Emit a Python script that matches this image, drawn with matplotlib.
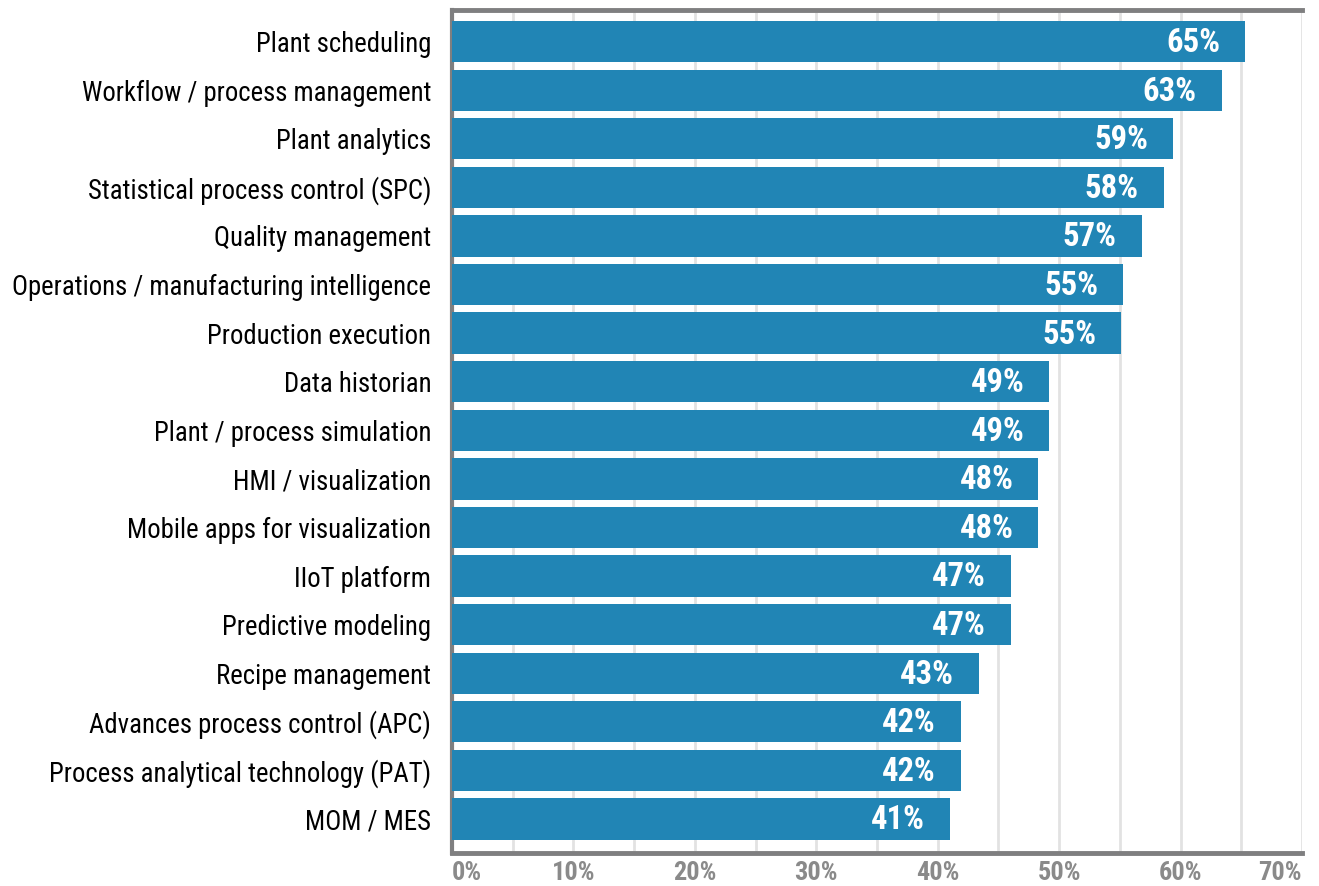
import matplotlib.pyplot as plt
from matplotlib.ticker import MultipleLocator

categories = ["Plant scheduling", "Workflow / process management", "Plant analytics",
              "Statistical process control (SPC)", "Quality management",
              "Operations / manufacturing intelligence", "Production execution",
              "Data historian", "Plant / process simulation", "HMI / visualization",
              "Mobile apps for visualization", "IIoT platform", "Predictive modeling",
              "Recipe management", "Advances process control (APC)",
              "Process analytical technology (PAT)", "MOM / MES"]
values = [65.3, 63.4, 59.4, 58.6, 56.8, 55.3, 55.1, 49.2, 49.2, 48.3, 48.3,
          46.0, 46.0, 43.4, 41.9, 41.9, 41.0]
labels = ["65%", "63%", "59%", "58%", "57%", "55%", "55%", "49%", "49%", "48%",
          "48%", "47%", "47%", "43%", "42%", "42%", "41%"]
xticks = [0, 10, 20, 30, 40, 50, 60, 70]

plt.rcParams['font.family'] = ['Roboto Condensed', 'Archivo Narrow', 'PT Sans Narrow',
                               'Liberation Sans Narrow', 'DejaVu Sans']

fig = plt.figure(figsize=(13.19, 8.86), dpi=100)
ax = fig.add_axes([0.3427, 0.0372, 0.9871 - 0.3427, 0.9887 - 0.0372])

ypos = list(range(len(categories)))
ax.barh(ypos, values, height=0.85, color='#2185b5', zorder=3)
for y, v, lab in zip(ypos, values, labels):
    ax.annotate(lab, (v, y), xytext=(-18, -1), textcoords='offset points',
                ha='right', va='center', color='white', fontsize=23.5,
                fontweight='bold', zorder=4)

ax.set_xlim(0, 70)
ax.set_ylim(16.7, -0.65)
ax.set_yticks(ypos)
ax.set_yticklabels(categories, fontsize=19.3)
ax.set_xticks(xticks)
ax.set_xticklabels([f"{t}%" for t in xticks], fontsize=19, color='#8a8a8a',
                   fontweight='bold')
xl = ax.get_xticklabels()
xl[0].set_horizontalalignment('left')
xl[-1].set_horizontalalignment('right')  # keep it inside the figure
ax.xaxis.set_minor_locator(MultipleLocator(5))
ax.tick_params(axis='y', length=0, pad=15)
ax.tick_params(axis='x', which='both', length=0, pad=6)
ax.grid(True, axis='x', which='both', color='#e2e2e2', linewidth=2, zorder=0)

for s in ['top', 'bottom']:
    ax.spines[s].set_color('#7f7f80')
    ax.spines[s].set_linewidth(3.5)
ax.spines['left'].set_color('#7f7f80')
ax.spines['left'].set_linewidth(3)
ax.spines['right'].set_visible(False)

fig.savefig('out.png', dpi=100)
